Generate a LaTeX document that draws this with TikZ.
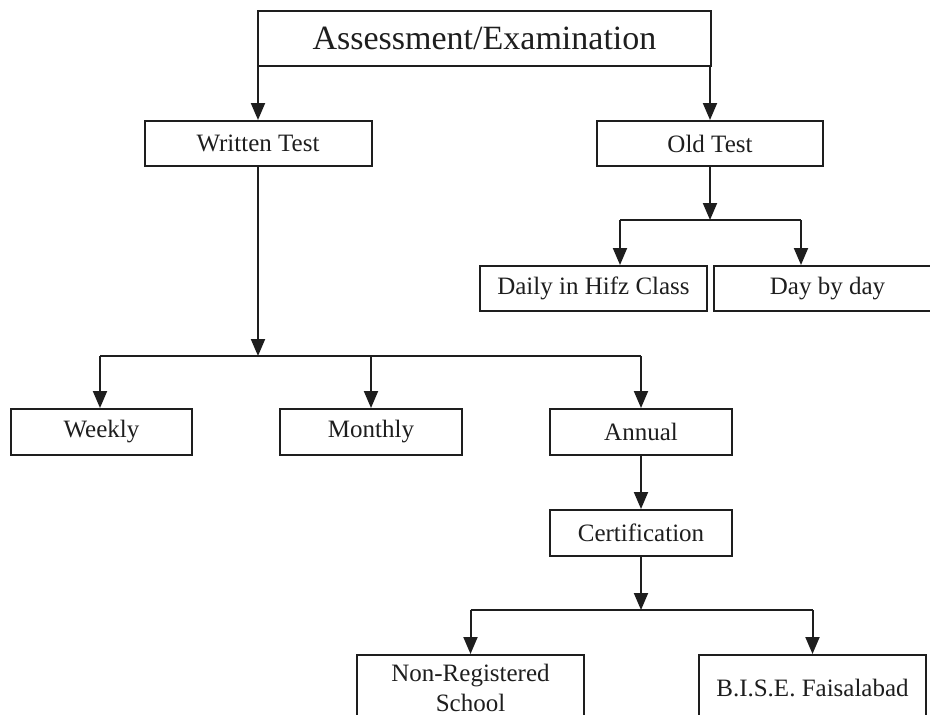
\documentclass[tikz,border=0pt]{standalone}
\usepackage{fontspec}
\setmainfont{Liberation Serif}
\usetikzlibrary{arrows.meta}
\definecolor{ink}{HTML}{1E1E1E}
\begin{document}
\begin{tikzpicture}[x=1pt,y=-1pt,
  box/.style={draw=ink,line width=2pt,rectangle,inner sep=0pt,align=center,
    font=\fontsize{25}{28}\selectfont,text=ink},
  conn/.style={draw=ink,line width=2pt},
  arr/.style={conn,-{Triangle[width=14pt,length=17pt]}}]
\useasboundingbox (0,0) rectangle (930,715);
\clip (0,0) rectangle (930,715);
\fill[white] (0,0) rectangle (930,715);
\node[box,minimum width=453pt,minimum height=55pt,font=\fontsize{34}{36}\selectfont] (top) at (484.5,38.5) {Assessment/Examination};
\node[box,minimum width=227pt,minimum height=45pt] (wt) at (258,143.5) {Written Test};
\node[box,minimum width=226pt,minimum height=45pt] (ot) at (710,143.5) {Old Test};
\node[box,minimum width=227pt,minimum height=45pt] (daily) at (593.5,288.5) {Daily in Hifz Class};
\node[box,minimum width=227pt,minimum height=45pt] (day) at (827.5,288.5) {Day by day};
\node[box,minimum width=181pt,minimum height=46pt] (weekly) at (101.5,432) {Weekly};
\node[box,minimum width=182pt,minimum height=46pt] (monthly) at (371,432) {Monthly};
\node[box,minimum width=182pt,minimum height=46pt] (annual) at (641,432) {Annual};
\node[box,minimum width=182pt,minimum height=46pt] (cert) at (641,533) {Certification};
\node[box,minimum width=227pt,minimum height=65pt,font=\fontsize{25}{30}\selectfont] (nonreg) at (470.5,687.5) {Non-Registered\\School};
\node[box,minimum width=227pt,minimum height=65pt] (bise) at (812.5,687.5) {B.I.S.E. Faisalabad};
% junction coordinates
\coordinate (j1) at (710,220);
\coordinate (j1l) at (620,220);
\coordinate (j1r) at (801,220);
\coordinate (j2) at (258,356);
\coordinate (j2l) at (100,356);
\coordinate (j2m) at (371,356);
\coordinate (j2r) at (641,356);
\coordinate (j3) at (641,610);
\coordinate (j3l) at (470.5,610);
\coordinate (j3r) at (812.5,610);
% connectors
\draw[arr] (wt.north |- top.south) -- (wt.north);
\draw[arr] (ot.north |- top.south) -- (ot.north);
\draw[arr] (ot.south) -- (j1);
\draw[conn] (j1l) -- (j1r);
\draw[arr] (j1l) -- (j1l |- daily.north);
\draw[arr] (j1r) -- (j1r |- day.north);
\draw[arr] (wt.south) -- (j2);
\draw[conn] (j2l) -- (j2r);
\draw[arr] (j2l) -- (j2l |- weekly.north);
\draw[arr] (j2m) -- (monthly.north);
\draw[arr] (j2r) -- (annual.north);
\draw[arr] (annual.south) -- (cert.north);
\draw[arr] (cert.south) -- (j3);
\draw[conn] (j3l) -- (j3r);
\draw[arr] (j3l) -- (nonreg.north);
\draw[arr] (j3r) -- (bise.north);
\end{tikzpicture}
\end{document}
